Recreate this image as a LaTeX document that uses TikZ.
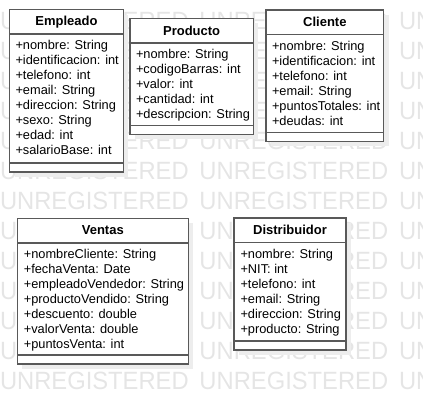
\documentclass[tikz,border=0pt]{standalone}
\usepackage{fontspec}
\setmainfont{Liberation Sans}
\usetikzlibrary{positioning, shadows}

\begin{document}
\begin{tikzpicture}[x=1bp, y=-1bp]
    \tikzstyle{watermark} = [inner sep=0, outer sep=0, anchor=west, text=black!10,
        font=\fontsize{25bp}{25bp}\selectfont]
    \tikzstyle{classbox} = [draw=black!65, line width=1.5bp, fill=white, inner sep=0,
        outer sep=0, anchor=north west,
        drop shadow={shadow xshift=5bp, shadow yshift=-5bp, fill=black!7, opacity=1}]
    \tikzstyle{classname} = [inner sep=0, outer sep=0, anchor=north, minimum height=24.5bp,
        font=\bfseries\fontsize{13bp}{15bp}\selectfont]
    \tikzstyle{attrs} = [inner sep=0, outer sep=0, align=left,
        font=\fontsize{12.8bp}{15bp}\selectfont]
    \tikzstyle{opsbox} = [inner sep=0, outer sep=0, anchor=south, minimum height=8.8bp]
    \tikzstyle{divider} = [draw=black!65, line width=1.5bp]

    \useasboundingbox (0,0) rectangle (423,405);
    \clip (0,0) rectangle (423,405);
    \foreach \r in {0,...,12}
        \foreach \c in {0,1,2}
            \node [watermark] (wm-\r-\c) at (199.5*\c, 21+30*\r)
                {\scalebox{0.95}[1]{UNREGISTERED}};

    % Empleado
    \node [classbox, minimum width=113.8bp, minimum height=162.5bp] at (9.5,9.5) (empleado) {};
    \node [classname] at (empleado.north) (empleado-name) {Empleado};
    \node [opsbox] at (empleado.south) (empleado-ops) {};
    \coordinate (empleado-head) at (empleado.west |- empleado-name.south);
    \node [attrs, below right=6.3bp and 6bp of empleado-head] (empleado-attrs)
        {+nombre: String\\+identificacion: int\\+telefono: int\\+email: String\\
        +direccion: String\\+sexo: String\\+edad: int\\+salarioBase: int};
    \draw [divider] (empleado-head) -- (empleado.east |- empleado-name.south);
    \draw [divider] (empleado.west |- empleado-ops.north) -- (empleado.east |- empleado-ops.north);

    % Producto
    \node [classbox, minimum width=123.3bp, minimum height=116bp] at (130,18.3) (producto) {};
    \node [classname] at (producto.north) (producto-name) {Producto};
    \node [opsbox] at (producto.south) (producto-ops) {};
    \coordinate (producto-head) at (producto.west |- producto-name.south);
    \node [attrs, below right=6.3bp and 6bp of producto-head] (producto-attrs)
        {+nombre: String\\+codigoBarras: int\\+valor: int\\+cantidad: int\\
        +descripcion: String};
    \draw [divider] (producto-head) -- (producto.east |- producto-name.south);
    \draw [divider] (producto.west |- producto-ops.north) -- (producto.east |- producto-ops.north);

    % Cliente
    \node [classbox, minimum width=117.7bp, minimum height=131.3bp] at (266,10) (cliente) {};
    \node [classname] at (cliente.north) (cliente-name) {Cliente};
    \node [opsbox] at (cliente.south) (cliente-ops) {};
    \coordinate (cliente-head) at (cliente.west |- cliente-name.south);
    \node [attrs, below right=6.3bp and 6bp of cliente-head] (cliente-attrs)
        {+nombre: String\\+identificacion: int\\+telefono: int\\+email: String\\
        +puntosTotales: int\\+deudas: int};
    \draw [divider] (cliente-head) -- (cliente.east |- cliente-name.south);
    \draw [divider] (cliente.west |- cliente-ops.north) -- (cliente.east |- cliente-ops.north);

    % Ventas
    \node [classbox, minimum width=171bp, minimum height=145.7bp] at (17.3,218.3) (ventas) {};
    \node [classname] at (ventas.north) (ventas-name) {Ventas};
    \node [opsbox] at (ventas.south) (ventas-ops) {};
    \coordinate (ventas-head) at (ventas.west |- ventas-name.south);
    \node [attrs, below right=6.3bp and 6.5bp of ventas-head] (ventas-attrs)
        {+nombreCliente: String\\+fechaVenta: Date\\+empleadoVendedor: String\\
        +productoVendido: String\\+descuento: double\\+valorVenta: double\\
        +puntosVenta: int};
    \draw [divider] (ventas-head) -- (ventas.east |- ventas-name.south);
    \draw [divider] (ventas.west |- ventas-ops.north) -- (ventas.east |- ventas-ops.north);

    % Distribuidor
    \node [classbox, minimum width=112bp, minimum height=132bp] at (234,218) (distribuidor) {};
    \node [classname] at (distribuidor.north) (distribuidor-name) {Distribuidor};
    \node [opsbox] at (distribuidor.south) (distribuidor-ops) {};
    \coordinate (distribuidor-head) at (distribuidor.west |- distribuidor-name.south);
    \node [attrs, below right=6.3bp and 6.5bp of distribuidor-head] (distribuidor-attrs)
        {+nombre: String\\+NIT: int\\+telefono: int\\+email: String\\
        +direccion: String\\+producto: String};
    \draw [divider] (distribuidor-head) -- (distribuidor.east |- distribuidor-name.south);
    \draw [divider] (distribuidor.west |- distribuidor-ops.north) -- (distribuidor.east |- distribuidor-ops.north);
\end{tikzpicture}
\end{document}
